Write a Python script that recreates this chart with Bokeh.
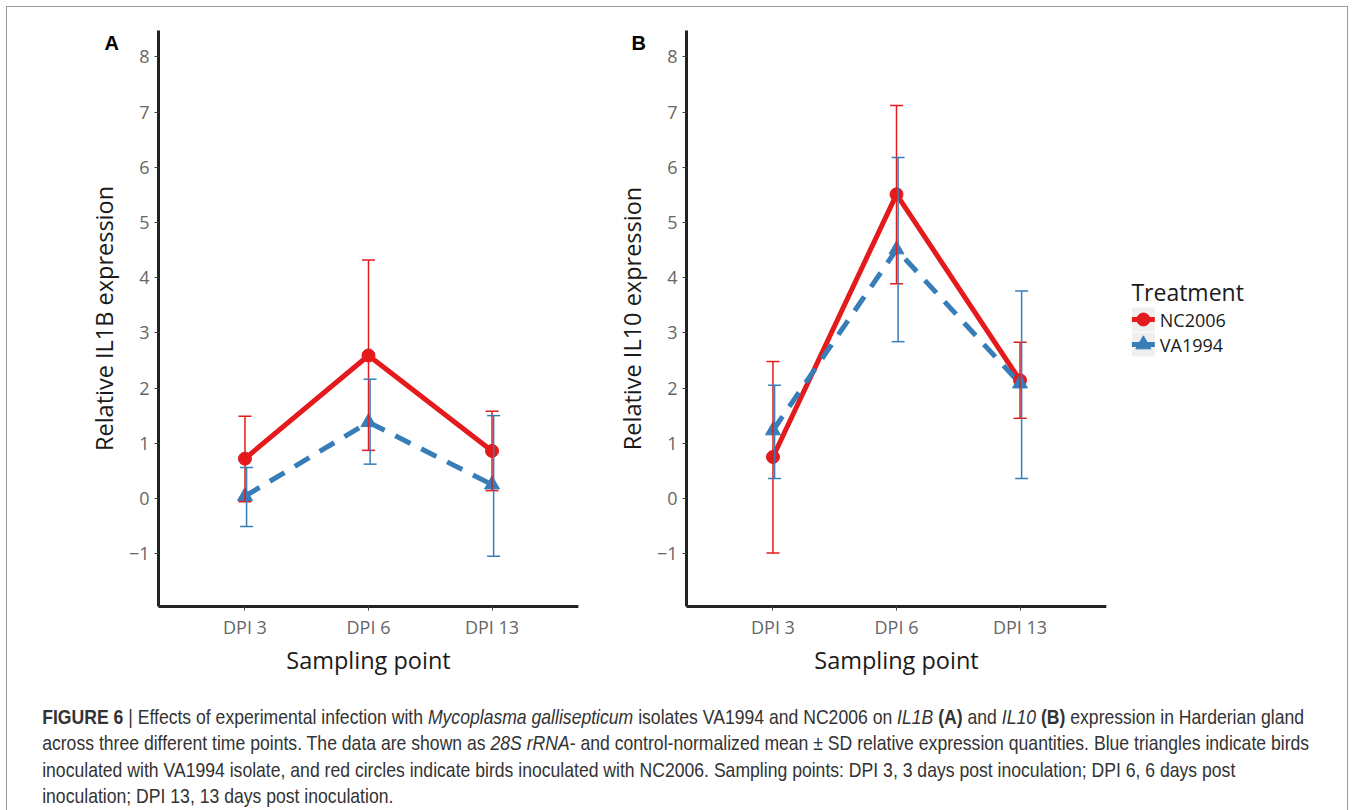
from bokeh.plotting import figure
from bokeh.models import (Range1d, FactorRange, FixedTicker, Whisker, ColumnDataSource,
                          Div, TeeHead)
from bokeh.layouts import row, column
from bokeh.transform import dodge
from bokeh.core.properties import value
from bokeh.embed import file_html
from bokeh.resources import INLINE

# ---------------- data ----------------
dpi = ["DPI 3", "DPI 6", "DPI 13"]
y_ticks = [-1, 0, 1, 2, 3, 4, 5, 6, 7, 8]
treatments = ["NC2006", "VA1994"]
treatment_markers = ["circle", "triangle"]

# Panel A: IL1B
il1b_nc_mean = [0.72, 2.59, 0.86]
il1b_nc_lower = [-0.06, 0.87, 0.14]
il1b_nc_upper = [1.49, 4.32, 1.58]
il1b_va_mean = [0.04, 1.38, 0.25]
il1b_va_lower = [-0.51, 0.62, -1.05]
il1b_va_upper = [0.56, 2.16, 1.50]

# Panel B: IL10
il10_nc_mean = [0.75, 5.51, 2.14]
il10_nc_lower = [-0.99, 3.89, 1.45]
il10_nc_upper = [2.48, 7.12, 2.83]
il10_va_mean = [1.23, 4.51, 2.08]
il10_va_lower = [0.36, 2.84, 0.36]
il10_va_upper = [2.05, 6.18, 3.76]

RED = "#E41A1C"
BLUE = "#377EB8"
COLORS = [RED, BLUE]
FONT = "Open Sans"
Y_START, Y_END = -1.96, 8.48
FRAME_H = 576


def make_panel(tag, ylabel, nc, va, border_left, tag_offset):
    p = figure(x_range=FactorRange(factors=dpi, range_padding=0.2, range_padding_units="absolute"),
               y_range=Range1d(Y_START, Y_END),
               frame_width=421, frame_height=FRAME_H,
               min_border_left=border_left, min_border_right=0,
               min_border_top=23, min_border_bottom=65,
               output_backend="svg", toolbar_location=None,
               background_fill_color="white", border_fill_color="white")
    p.outline_line_color = None
    p.grid.visible = False

    # panel tag as title, pushed down beside the top of the y axis
    p.title.text = tag
    p.title.align = "left"
    p.title.offset = tag_offset
    p.title.standoff = -46
    p.title.text_font = "Liberation Sans"
    p.title.text_font_style = "bold"
    p.title.text_font_size = "20px"
    p.title.text_color = "black"

    src_nc = ColumnDataSource(dict(x=dpi, mean=nc[0], lo=nc[1], hi=nc[2]))
    src_va = ColumnDataSource(dict(x=dpi, mean=va[0], lo=va[1], hi=va[2]))

    p.line("x", "mean", source=src_nc, line_color=RED, line_width=5)
    p.line("x", "mean", source=src_va, line_color=BLUE, line_width=5, line_dash="17 12")
    p.scatter("x", "mean", source=src_nc, marker="circle", size=13,
              fill_color=RED, line_color=RED)
    p.scatter("x", "mean", source=src_va, marker="triangle", size=15,
              fill_color=BLUE, line_color=BLUE)

    for src, col, off in ((src_nc, RED, 0.0), (src_va, BLUE, 0.013)):
        w = Whisker(source=src, base=dodge("x", off, range=p.x_range), upper="hi", lower="lo",
                    line_color=col, line_width=1.5, level="annotation",
                    upper_head=TeeHead(size=13, line_color=col, line_width=1.5),
                    lower_head=TeeHead(size=13, line_color=col, line_width=1.5))
        p.add_layout(w)

    # axes
    p.yaxis.ticker = FixedTicker(ticks=y_ticks)
    p.yaxis.major_label_overrides = {-1: "\u22121"}
    for ax in (p.xaxis, p.yaxis):
        ax.axis_line_color = "#222222"
        ax.axis_line_width = 3
        ax.major_tick_line_color = "#444444"
        ax.major_tick_line_width = 1
        ax.major_tick_out = 4
        ax.major_tick_in = 0
        ax.minor_tick_line_color = None
        ax.major_label_text_font = FONT
        ax.major_label_text_font_size = "18px"
        ax.major_label_text_color = "#666666"
        ax.axis_label_text_font = FONT
        ax.axis_label_text_font_size = "23.5px"
        ax.axis_label_text_font_style = "normal"
        ax.axis_label_text_color = "#1a1a1a"
    p.xaxis.axis_label = "Sampling point"
    p.xaxis.major_label_standoff = 4
    p.xaxis.axis_label_standoff = 2
    p.yaxis.axis_label = ylabel
    p.yaxis.major_label_standoff = 5
    p.yaxis.axis_label_standoff = 6
    return p


pA = make_panel("A", "Relative IL1B expression",
                (il1b_nc_mean, il1b_nc_lower, il1b_nc_upper),
                (il1b_va_mean, il1b_va_lower, il1b_va_upper), 151, -54)
pB = make_panel("B", "Relative IL10 expression",
                (il10_nc_mean, il10_nc_lower, il10_nc_upper),
                (il10_va_mean, il10_va_lower, il10_va_upper), 108, -55)

# ---------------- legend panel (pixel-like coordinates from frame top, y downward) ----------------
LW = 241
pL = figure(title=None, x_range=Range1d(0, LW), y_range=Range1d(FRAME_H, 0),
            frame_width=LW, frame_height=FRAME_H,
            min_border_left=0, min_border_right=0, min_border_top=23, min_border_bottom=65,
            x_axis_type=None, y_axis_type=None,
            output_backend="svg", toolbar_location=None,
            background_fill_color="white", border_fill_color="white")
pL.outline_line_color = None
pL.grid.visible = False

key_x, key_y0, key_step, key_w, key_h = 37, 289, 25, 23, 24
n = len(treatments)
key_ys = [key_y0 + i * key_step for i in range(n)]
leg_src = ColumnDataSource(dict(
    x=[key_x] * n, y=key_ys,
    x0=[key_x - key_w / 2] * n, x1=[key_x + key_w / 2] * n,
    tx=[key_x + key_w / 2 + 5] * n,
    label=treatments, color=COLORS, marker=treatment_markers,
    size=[13, 15]))
pL.rect("x", "y", width=key_w, height=key_h, source=leg_src,
        fill_color="#efefef", line_color=None)
pL.segment("x0", "y", "x1", "y", source=leg_src, line_color="color", line_width=5)
pL.scatter("x", "y", source=leg_src, marker="marker", size="size",
           fill_color="color", line_color="color")
pL.text("tx", "y", text="label", source=leg_src, text_font=value(FONT),
        text_font_size="18px", text_color="#1a1a1a", text_baseline="middle")
pL.text(x=[25], y=[key_y0 - 28], text=["Treatment"], text_font=value(FONT),
        text_font_size="23px", text_color="#1a1a1a", text_baseline="middle")

# ---------------- caption ----------------
caption_lines = [
    "<b>FIGURE 6</b> | Effects of experimental infection with <i>Mycoplasma gallisepticum</i> isolates VA1994 and NC2006 on <i>IL1B</i> <b>(A)</b> and <i>IL10</i> <b>(B)</b> expression in Harderian gland",
    "across three different time points. The data are shown as <i>28S rRNA</i>- and control-normalized mean \u00b1 SD relative expression quantities. Blue triangles indicate birds",
    "inoculated with VA1994 isolate, and red circles indicate birds inoculated with NC2006. Sampling points: DPI 3, 3 days post inoculation; DPI 6, 6 days post",
    "inoculation; DPI 13, 13 days post inoculation.",
]
caption_html = ('<div style="width:1342px;height:130px;overflow:hidden;">'
                '<div style="font-family:\'Liberation Sans\',Arial,sans-serif;'
                'font-size:21px;line-height:26.3px;color:#333333;padding-left:36px;padding-top:21px;'
                'white-space:nowrap;transform:scaleX(0.838);transform-origin:0 0;">'
                + "<br>".join(caption_lines) + '</div></div>')
caption = Div(text=caption_html, width=1342, height=130)

layout = column(row(pA, pB, pL), caption, margin=(6, 0, 0, 6), width=1342,
                styles={"border": "1.5px solid #9a9a9a", "border-bottom": "none",
                        "background-color": "white"})

with open("out.html", "w") as f:
    f.write(file_html(layout, INLINE))
